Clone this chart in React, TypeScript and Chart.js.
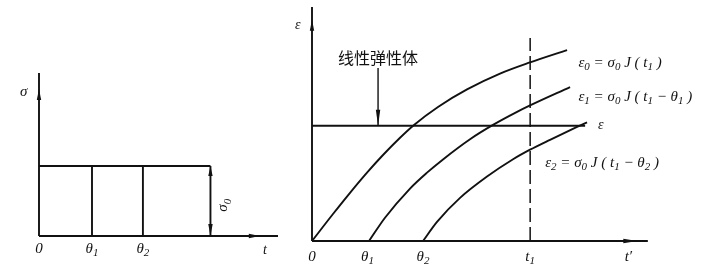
import React, { useEffect, useRef } from "react";
import { Chart, registerables } from "chart.js";

Chart.register(...registerables);

// ---------- Left panel: stress history sigma(t) ----------
const sigmaLevel = 1; // sigma_0
const loadTimes = [0, 1.02, 2.0]; // 0, theta1, theta2
const loadTickLabels = ["0", "θ_1", "θ_2"];
const loadEnd = 3.3;
const leftXMax = 4.6;
const leftYMax = 2.33;

// ---------- Right panel: creep strain curves ----------
const e0Times = [0, 0.378, 0.685, 0.991, 1.279, 1.586, 1.838, 2.27, 2.793, 3.387, 3.928, 4.595];
const e0Values = [0, 0.234, 0.418, 0.593, 0.746, 0.896, 1.007, 1.163, 1.315, 1.452, 1.549, 1.656];
const e1Times = [1.027, 1.315, 1.766, 2.072, 2.36, 2.847, 3.261, 3.694, 3.928, 4.649];
const e1Values = [0, 0.202, 0.455, 0.593, 0.708, 0.883, 1.007, 1.12, 1.176, 1.335];
const e2Times = [2.0, 2.252, 2.667, 3.153, 3.622, 3.928, 4.288, 4.775, 4.955];
const e2Values = [0, 0.166, 0.374, 0.559, 0.709, 0.792, 0.878, 0.99, 1.03];
const elasticLevel = 1;
const elasticEnd = 4.92;
const t1 = 3.93;
const t1LineTop = 1.76;
const elasticArrowX = 1.19;
const elasticArrowTop = 1.5;
const rightTickValues = [0, 1.0, 2.0, 3.93, 5.7];
const rightTickLabels = ["0", "θ_1", "θ_2", "t_1", "t′"];
const rightXMax = 7.35;
const rightYMax = 2.03;
const rightAxisEnd = 6.05;

const INK = "#111111";
const FONT = '"Liberation Serif", "DejaVu Serif", serif';

type Part = { t: string; sub: boolean };
function parseRich(s: string): Part[] {
  const out: Part[] = [];
  let buf = "";
  for (let i = 0; i < s.length; i++) {
    if (s[i] === "_" && i + 1 < s.length) {
      if (buf) { out.push({ t: buf, sub: false }); buf = ""; }
      out.push({ t: s[i + 1], sub: true });
      i++;
    } else buf += s[i];
  }
  if (buf) out.push({ t: buf, sub: false });
  return out;
}

function drawRich(ctx: CanvasRenderingContext2D, text: string, x: number, y: number, size: number, align: "left" | "center" = "left", italic = true) {
  const parts = parseRich(text);
  const main = `${italic ? "italic " : ""}${size}px ${FONT}`;
  const sub = `${italic ? "italic " : ""}${Math.round(size * 0.72)}px ${FONT}`;
  let w = 0;
  for (const p of parts) { ctx.font = p.sub ? sub : main; w += ctx.measureText(p.t).width; }
  let cx = align === "center" ? x - w / 2 : x;
  ctx.textAlign = "left";
  ctx.textBaseline = "middle";
  ctx.fillStyle = INK;
  for (const p of parts) {
    ctx.font = p.sub ? sub : main;
    ctx.fillText(p.t, cx, p.sub ? y + size * 0.3 : y);
    cx += ctx.measureText(p.t).width;
  }
}

function arrowHead(ctx: CanvasRenderingContext2D, x: number, y: number, dx: number, dy: number, len = 10, half = 2.5) {
  ctx.beginPath();
  ctx.moveTo(x, y);
  ctx.lineTo(x - dx * len - dy * half, y - dy * len + dx * half);
  ctx.lineTo(x - dx * len + dy * half, y - dy * len - dx * half);
  ctx.closePath();
  ctx.fillStyle = INK;
  ctx.fill();
}

function line(ctx: CanvasRenderingContext2D, x1: number, y1: number, x2: number, y2: number, w = 1.9) {
  ctx.beginPath();
  ctx.moveTo(x1, y1);
  ctx.lineTo(x2, y2);
  ctx.strokeStyle = INK;
  ctx.lineWidth = w;
  ctx.stroke();
}

const seg = (pts: { x: number; y: number }[], extra: any = {}) => ({
  data: pts,
  showLine: true,
  borderColor: INK,
  borderWidth: 1.9,
  pointRadius: 0,
  fill: false,
  clip: false as any,
  ...extra,
});

const zip = (xs: number[], ys: number[]) => xs.map((x, i) => ({ x, y: ys[i] }));

const leftPlugin = {
  id: "leftOverlay",
  afterDatasetsDraw(chart: any) {
    const ctx: CanvasRenderingContext2D = chart.ctx;
    const xs = chart.scales.x, ys = chart.scales.y;
    const px = (v: number) => xs.getPixelForValue(v);
    const py = (v: number) => ys.getPixelForValue(v);
    ctx.save();
    line(ctx, px(0), py(0), px(leftXMax), py(0));
    line(ctx, px(0), py(0), px(0), py(leftYMax));
    arrowHead(ctx, px(0), py(2.1), 0, -1, 11, 2.2);
    arrowHead(ctx, px(4.25), py(0), 1, 0, 11, 2.2);
    arrowHead(ctx, px(loadEnd), py(sigmaLevel), 0, -1, 10, 2.2);
    arrowHead(ctx, px(loadEnd), py(0), 0, 1, 12, 2.2);
    drawRich(ctx, "σ", px(0) - 19, py(2.06), 15);
    loadTimes.forEach((t, i) => drawRich(ctx, loadTickLabels[i], px(t), py(0) + 13, 15, "center"));
    drawRich(ctx, "t", px(4.35), py(0) + 14, 14, "center");
    ctx.save();
    ctx.translate(px(loadEnd) + 13, py(0.44));
    ctx.rotate(-Math.PI / 2);
    drawRich(ctx, "σ_0", 0, 0, 15, "center");
    ctx.restore();
    ctx.restore();
  },
};

const rightPlugin = {
  id: "rightOverlay",
  afterDatasetsDraw(chart: any) {
    const ctx: CanvasRenderingContext2D = chart.ctx;
    const xs = chart.scales.x, ys = chart.scales.y;
    const px = (v: number) => xs.getPixelForValue(v);
    const py = (v: number) => ys.getPixelForValue(v);
    ctx.save();
    line(ctx, px(0), py(0), px(rightAxisEnd), py(0));
    line(ctx, px(0), py(0), px(0), py(rightYMax));
    arrowHead(ctx, px(0), py(1.92), 0, -1, 11, 2.2);
    arrowHead(ctx, px(5.86), py(0), 1, 0, 14, 2.2);
    arrowHead(ctx, px(elasticArrowX), py(elasticLevel), 0, 1, 16, 2.2);
    drawRich(ctx, "ε", px(0) - 17, py(1.87), 14);
    rightTickValues.forEach((t, i) => drawRich(ctx, rightTickLabels[i], px(t), py(0) + 16, 15, "center"));
    ctx.font = `16px "Noto Sans CJK SC", sans-serif`;
    ctx.fillStyle = INK;
    ctx.textAlign = "center";
    ctx.textBaseline = "middle";
    ctx.fillText("线性弹性体", px(elasticArrowX), py(1.59));
    drawRich(ctx, "ε_0 = σ_0 J ( t_1 )", px(4.8), py(1.544), 15);
    drawRich(ctx, "ε_1 = σ_0 J ( t_1 − θ_1 )", px(4.8), py(1.249), 15);
    drawRich(ctx, "ε", px(5.15), py(1.0), 14);
    drawRich(ctx, "ε_2 = σ_0 J ( t_1 − θ_2 )", px(4.2), py(0.677), 15);
    ctx.restore();
  },
};

function baseOptions(xMax: number, yMax: number, padding: any) {
  return {
    animation: false as const,
    responsive: false,
    devicePixelRatio: 1,
    layout: { padding },
    scales: {
      x: { type: "linear" as const, min: 0, max: xMax, display: false },
      y: { type: "linear" as const, min: 0, max: yMax, display: false },
    },
    plugins: { legend: { display: false }, tooltip: { enabled: false } },
    elements: { point: { radius: 0 } },
  };
}

export default function App() {
  const leftRef = useRef<HTMLCanvasElement>(null);
  const rightRef = useRef<HTMLCanvasElement>(null);

  useEffect(() => {
    const leftDatasets = [
      seg([{ x: 0, y: sigmaLevel }, { x: loadEnd, y: sigmaLevel }]),
      ...loadTimes.slice(1).map((t) => seg([{ x: t, y: 0 }, { x: t, y: sigmaLevel }])),
      seg([{ x: loadEnd, y: 0 }, { x: loadEnd, y: sigmaLevel }]),
    ];
    const left = new Chart(leftRef.current!, {
      type: "scatter",
      data: { datasets: leftDatasets as any },
      options: baseOptions(leftXMax, leftYMax, { left: 39, right: 12, top: 73, bottom: 42 }) as any,
      plugins: [leftPlugin],
    });

    const curve = { cubicInterpolationMode: "monotone" };
    const rightDatasets = [
      seg(zip(e0Times, e0Values), curve),
      seg(zip(e1Times, e1Values), curve),
      seg(zip(e2Times, e2Values), curve),
      seg([{ x: 0, y: elasticLevel }, { x: elasticEnd, y: elasticLevel }]),
      seg([{ x: t1, y: 0 }, { x: t1, y: t1LineTop }], { borderDash: [14, 5], borderWidth: 1.5 }),
      seg([{ x: elasticArrowX, y: elasticArrowTop }, { x: elasticArrowX, y: elasticLevel }], { borderWidth: 1.4 }),
    ];
    const right = new Chart(rightRef.current!, {
      type: "scatter",
      data: { datasets: rightDatasets as any },
      options: baseOptions(rightXMax, rightYMax, { left: 22, right: 0, top: 7, bottom: 37 }) as any,
      plugins: [rightPlugin],
    });

    return () => {
      left.destroy();
      right.destroy();
    };
  }, []);

  return (
    <div style={{ position: "fixed", left: 0, top: 0, width: 720, height: 278, background: "#fff" }}>
      <canvas ref={leftRef} width={290} height={278} style={{ position: "absolute", left: 0, top: 0, width: 290, height: 278 }} />
      <canvas ref={rightRef} width={430} height={278} style={{ position: "absolute", left: 290, top: 0, width: 430, height: 278 }} />
    </div>
  );
}
